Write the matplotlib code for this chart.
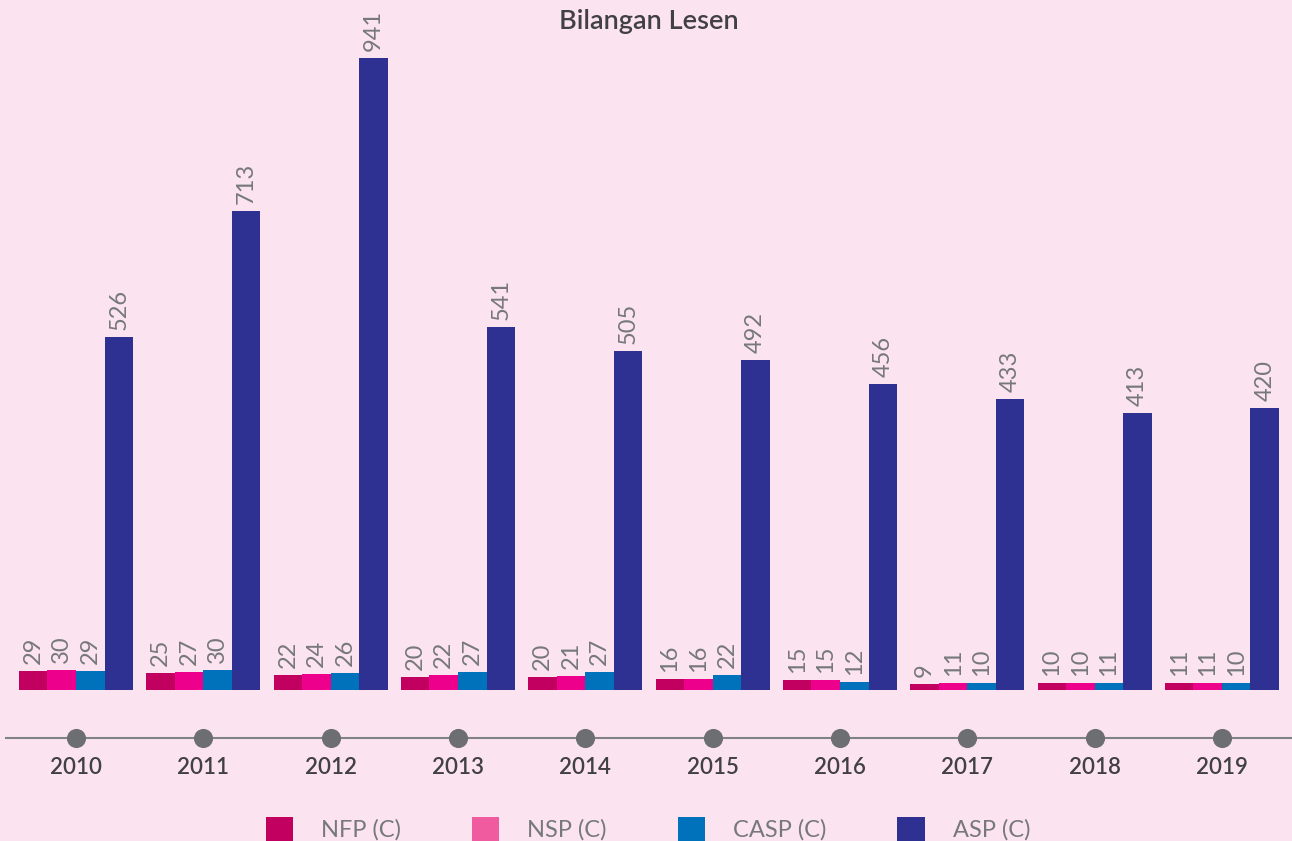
import numpy as np
import matplotlib
matplotlib.use('Agg')
import matplotlib.pyplot as plt
from matplotlib.patches import Patch

years = ['2010', '2011', '2012', '2013', '2014', '2015', '2016', '2017', '2018', '2019']
nfp = [29, 25, 22, 20, 20, 16, 15, 9, 10, 11]
nsp = [30, 27, 24, 22, 21, 16, 15, 11, 10, 11]
casp = [29, 30, 26, 27, 27, 22, 12, 10, 11, 10]
asp = [526, 713, 941, 541, 505, 492, 456, 433, 413, 420]

series = ['NFP (C)', 'NSP (C)', 'CASP (C)', 'ASP (C)']
bar_colors = ['#C2005F', '#EC008C', '#0072BC', '#2E3192']
legend_colors = ['#C2005F', '#F05A9E', '#0072BC', '#2E3192']

bg = '#FBE4EF'
txt_gray = '#77787B'
dark = '#414042'

plt.rcParams['font.family'] = ['Lato', 'DejaVu Sans']

W, H = 1292, 841
fig = plt.figure(figsize=(W / 100, H / 100), dpi=100, facecolor=bg)

# pixel helpers
x0 = (0 - 76) / 127.33
x1 = (W - 76) / 127.33

ax = fig.add_axes([0, (H - 690) / H, 1, 690 / H])
ax.set_facecolor('none')
ax.set_xlim(x0, x1)
ax.set_ylim(0, 690 / (632 / 941))
for s in ax.spines.values():
    s.set_visible(False)
ax.set_xticks([])
ax.set_yticks([])

x = np.arange(len(years))
bw = 0.224
data = [nfp, nsp, casp, asp]
for i, vals in enumerate(data):
    pos = x + (i - 1.5) * bw
    ax.bar(pos, vals, width=bw, color=bar_colors[i], linewidth=0)
    for px, v in zip(pos, vals):
        ax.annotate(str(v), (px, v), xytext=(0, 5), textcoords='offset points',
                    rotation=90, ha='center', va='bottom', fontsize=17,
                    color=txt_gray, fontweight='normal')

# timeline
tl = fig.add_axes([0, (H - 790) / H, 1, 100 / H])
tl.set_facecolor('none')
tl.set_xlim(x0, x1)
tl.set_ylim(0, 100)
tl.axis('off')
tl.plot([(6 - 76) / 127.33, x1], [52, 52], color='#808285', lw=1.5, zorder=1)
tl.scatter(x, [52] * len(x), s=190, color='#6D6E71', zorder=2, linewidths=0)
for xi, yr in zip(x, years):
    tl.text(xi, 23, yr, ha='center', va='center', fontsize=16,
            color=dark, fontweight='semibold')

fig.text(649 / W, 1 - 22 / H, 'Bilangan Lesen', ha='center', va='center',
         fontsize=19.5, color=dark, fontweight='semibold')

handles = [Patch(facecolor=c, edgecolor='none') for c in legend_colors]
fig.legend(handles, series, loc='center', bbox_to_anchor=(648 / W, 1 - 829 / H),
           ncol=4, frameon=False, handlelength=1.15, handleheight=1.15,
           columnspacing=3.0, handletextpad=1.2, labelcolor=txt_gray,
           prop={'weight': 'normal', 'size': 17})

fig.savefig('out.png', dpi=100, facecolor=bg)
